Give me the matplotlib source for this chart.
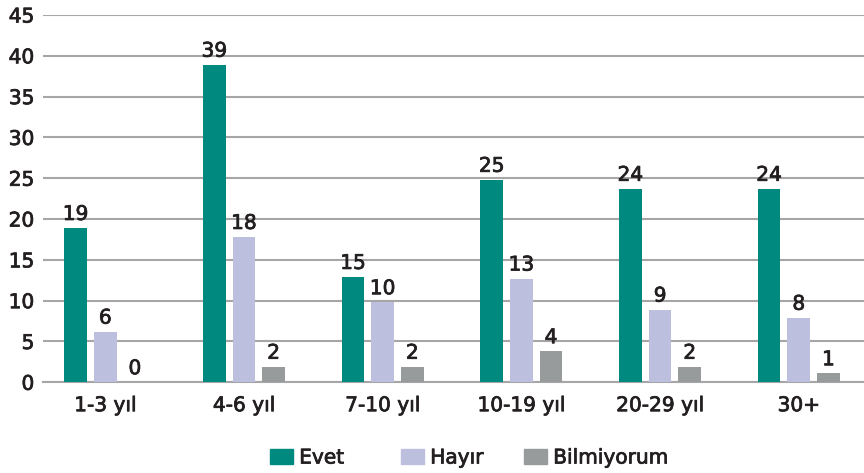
import numpy as np
import matplotlib.pyplot as plt
import matplotlib.patheffects as pe
from matplotlib.patches import Patch

categories = ['1-3 yıl', '4-6 yıl', '7-10 yıl', '10-19 yıl', '20-29 yıl', '30+']
series = ['Evet', 'Hayır', 'Bilmiyorum']
# bar heights as drawn in the source
evet = [18.9, 38.9, 12.9, 24.8, 23.7, 23.7]
hayir = [6.2, 17.8, 9.8, 12.7, 8.9, 7.9]
bilmiyorum = [0, 1.9, 1.9, 3.8, 1.9, 1.1]
# value labels as printed
evet_lbl = [19, 39, 15, 25, 24, 24]
hayir_lbl = [6, 18, 10, 13, 9, 8]
bilmiyorum_lbl = [0, 2, 2, 4, 2, 1]

colors = ['#00897f', '#bdbfde', '#989b9b']
text_color = '#231f20'
plt.rcParams['font.family'] = ['DejaVu Sans']
# the source font is a little heavier than DejaVu regular
heavy = [pe.withStroke(linewidth=0.55, foreground=text_color)]

fig = plt.figure(figsize=(8.64, 4.73), dpi=100)
ax = fig.add_axes([42.7 / 864, 1 - 382.3 / 473, 1 - 42.7 / 864, (382.3 - 15) / 473])

x = np.arange(len(categories))
w = 0.1637
step = 0.214
for i, (vals, lbls) in enumerate([(evet, evet_lbl), (hayir, hayir_lbl), (bilmiyorum, bilmiyorum_lbl)]):
    pos = x + (i - 1) * step
    ax.bar(pos, vals, width=w, color=colors[i], zorder=3)
    for px, v, l in zip(pos, vals, lbls):
        ax.text(px, v + 0.5, str(l), ha='center', va='bottom', fontsize=14.5,
                color=text_color, zorder=4, path_effects=heavy)

ax.set_xlim(-0.451, 5.47)
ax.set_ylim(0, 45)
ax.set_yticks(range(0, 46, 5))
ax.set_xticks(x)
ax.set_xticklabels(categories)
ax.tick_params(axis='both', length=0, labelsize=14.5, labelcolor=text_color)
ax.tick_params(axis='x', pad=10)
ax.tick_params(axis='y', pad=6)
for t in ax.get_xticklabels() + ax.get_yticklabels():
    t.set_path_effects(heavy)
ax.yaxis.grid(True, color='#a6a6a6', linewidth=1.5, zorder=0)
for s in ['top', 'right', 'left']:
    ax.spines[s].set_visible(False)
ax.spines['bottom'].set_color('#a6a6a6')
ax.spines['bottom'].set_linewidth(1.5)
ax.spines['bottom'].set_zorder(2)

# one legend per entry so each key sits where it does in the source
legend_x = [270, 401, 524]
for name, c, lx in zip(series, colors, legend_x):
    leg = fig.legend([Patch(color=c)], [name], loc='center left',
                     bbox_to_anchor=(lx / 864, 1 - 458 / 473), frameon=False,
                     fontsize=14.5, handlelength=1.15, handleheight=0.8,
                     handletextpad=0.3, borderpad=0, borderaxespad=0)
    for t in leg.get_texts():
        t.set_color(text_color)
        t.set_path_effects(heavy)

fig.savefig('out.png', dpi=100)
